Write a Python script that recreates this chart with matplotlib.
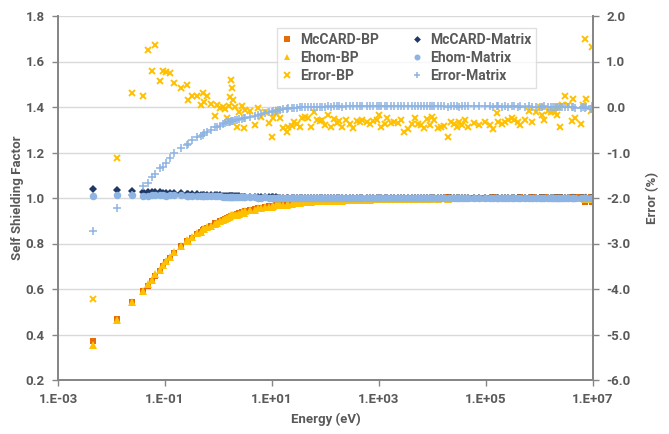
import matplotlib
matplotlib.use('Agg')
import matplotlib.pyplot as plt
from matplotlib.ticker import FixedLocator, FormatStrFormatter

# energy groups (eV)
energy = [
    4.57e-3, 1.25e-2, 2.39e-2, 3.88e-2, 4.81e-2, 5.71e-2, 6.59e-2, 7.96e-2, 9.18e-2, 0.106,
    0.122, 0.147, 0.196, 0.261, 0.269, 0.320, 0.402, 0.465, 0.513, 0.547,
    0.618, 0.714, 0.871, 0.951, 1.05, 1.21, 1.34, 1.46, 1.55, 1.62,
    1.73, 1.79, 1.87, 2.01, 2.24, 2.39, 2.75, 3.00, 3.17, 3.83,
    4.81, 5.41, 6.22, 7.40, 8.79, 9.87, 10.6, 11.7, 13.1, 14.1,
    16.3, 18.8, 20.2, 23.9, 26.1, 29.0, 33.3, 36.8, 41.4, 46.5,
    53.6, 61.8, 68.5, 78.9, 84.9, 97.9, 113, 127, 146, 162,
    179, 206, 239, 287, 331, 383, 442, 488, 589, 679,
    782, 906, 1000, 1090, 1290, 1390, 1680, 1930, 2240, 2580,
    2970, 3440, 4080, 4710, 5430, 6100, 7030, 7800, 8980, 9660,
    1.08e4, 1.25e4, 1.44e4, 1.66e4, 1.97e4, 2.22e4, 2.56e4, 2.83e4, 3.13e4, 3.52e4,
    4.05e4, 4.67e4, 5.97e4, 7.40e4, 9.57e4, 1.19e5, 1.37e5, 1.58e5, 1.70e5, 1.96e5,
    2.26e5, 2.61e5, 3.02e5, 3.38e5, 3.92e5, 4.32e5, 5.36e5, 6.37e5, 7.15e5, 8.49e5,
    1.02e6, 1.10e6, 1.23e6, 1.46e6, 1.64e6, 1.81e6, 1.95e6, 2.09e6, 2.24e6, 2.42e6,
    2.67e6, 3.00e6, 3.45e6, 4.00e6, 4.29e6, 4.61e6, 5.97e6, 6.59e6, 7.08e6, 7.40e6,
    9.18e6, 9.46e6,
]

# self shielding factors (left axis)
mccard_bp = [
    0.370, 0.467, 0.543, 0.590, 0.613, 0.636, 0.655, 0.680, 0.700, 0.717,
    0.735, 0.758, 0.787, 0.810, 0.812, 0.826, 0.842, 0.852, 0.859, 0.863,
    0.870, 0.878, 0.888, 0.892, 0.898, 0.904, 0.909, 0.913, 0.915, 0.917,
    0.920, 0.921, 0.923, 0.926, 0.930, 0.932, 0.937, 0.940, 0.942, 0.947,
    0.952, 0.955, 0.958, 0.961, 0.964, 0.966, 0.967, 0.969, 0.971, 0.972,
    0.974, 0.976, 0.977, 0.979, 0.980, 0.981, 0.982, 0.983, 0.984, 0.985,
    0.986, 0.987, 0.988, 0.989, 0.989, 0.990, 0.991, 0.991, 0.992, 0.992,
    0.993, 0.993, 0.994, 0.994, 0.995, 0.995, 0.996, 0.996, 0.996, 0.997,
    0.997, 0.997, 0.998, 0.998, 0.998, 0.998, 0.999, 0.999, 0.999, 0.999,
    1.000, 1.000, 1.000, 1.000, 1.001, 1.001, 1.001, 1.001, 1.001, 1.001,
    1.002, 1.002, 1.002, 1.002, 1.003, 1.002, 1.002, 1.002, 1.002, 1.002,
    1.002, 1.002, 1.002, 1.002, 1.002, 1.002, 1.003, 1.002, 1.002, 1.002,
    1.002, 1.002, 1.002, 1.002, 1.002, 1.003, 1.002, 1.002, 1.003, 1.002,
    1.002, 1.003, 1.003, 1.002, 1.002, 1.002, 1.002, 1.003, 1.002, 1.004,
    1.001, 0.999, 1.002, 1.004, 1.001, 1.003, 1.004, 1.002, 0.982, 1.001,
    1.003, 0.984,
]

ehom_bp = [
    0.352, 0.462, 0.545, 0.591, 0.621, 0.641, 0.664, 0.684, 0.706, 0.722,
    0.740, 0.762, 0.790, 0.814, 0.813, 0.828, 0.844, 0.852, 0.862, 0.864,
    0.872, 0.879, 0.886, 0.892, 0.898, 0.904, 0.909, 0.911, 0.915, 0.919,
    0.925, 0.925, 0.924, 0.926, 0.926, 0.931, 0.937, 0.936, 0.941, 0.946,
    0.948, 0.955, 0.956, 0.960, 0.961, 0.960, 0.965, 0.968, 0.970, 0.970,
    0.969, 0.971, 0.973, 0.975, 0.977, 0.977, 0.978, 0.981, 0.982, 0.983,
    0.982, 0.986, 0.985, 0.986, 0.986, 0.986, 0.989, 0.987, 0.989, 0.988,
    0.990, 0.989, 0.991, 0.990, 0.990, 0.992, 0.993, 0.993, 0.993, 0.993,
    0.994, 0.994, 0.996, 0.994, 0.994, 0.996, 0.995, 0.996, 0.995, 0.996,
    0.995, 0.995, 0.996, 0.998, 0.997, 0.997, 0.996, 0.998, 0.997, 0.999,
    0.999, 0.997, 0.998, 0.998, 0.996, 0.999, 0.998, 0.998, 0.999, 0.998,
    0.999, 0.998, 0.998, 0.998, 0.999, 0.998, 0.998, 1.001, 0.999, 0.998,
    0.999, 0.999, 1.000, 0.999, 0.999, 0.998, 0.999, 1.001, 1.000, 1.001,
    1.002, 1.001, 1.000, 1.001, 1.001, 1.001, 1.001, 1.001, 1.002, 1.000,
    1.001, 1.001, 1.002, 1.001, 1.003, 1.001, 1.000, 1.002, 0.997, 1.003,
    1.002, 0.997,
]

mccard_mx = [
    1.039, 1.034, 1.031, 1.028, 1.027, 1.027, 1.026, 1.025, 1.024, 1.023,
    1.022, 1.021, 1.020, 1.018, 1.018, 1.017, 1.016, 1.015, 1.015, 1.014,
    1.014, 1.013, 1.012, 1.011, 1.011, 1.010, 1.010, 1.009, 1.009, 1.009,
    1.008, 1.008, 1.008, 1.008, 1.007, 1.007, 1.006, 1.006, 1.006, 1.005,
    1.005, 1.004, 1.004, 1.004, 1.003, 1.003, 1.003, 1.003, 1.002, 1.002,
    1.002, 1.002, 1.002, 1.002, 1.001, 1.001, 1.001, 1.001, 1.001, 1.001,
    1.001, 1.001, 1.000, 1.001, 1.000, 1.000, 1.001, 1.000, 1.000, 1.000,
    1.000, 1.000, 1.000, 1.000, 1.000, 1.000, 1.000, 1.000, 1.000, 1.000,
    1.000, 1.000, 1.000, 1.000, 1.000, 1.000, 1.000, 1.000, 1.000, 1.000,
    1.000, 1.000, 1.000, 1.000, 1.000, 1.000, 1.000, 1.000, 1.000, 1.000,
    1.000, 1.000, 1.000, 1.000, 1.000, 1.000, 1.000, 1.000, 1.000, 1.000,
    1.000, 1.000, 1.000, 1.000, 1.000, 1.000, 1.000, 1.000, 1.000, 1.000,
    1.000, 1.000, 1.000, 1.000, 1.000, 1.000, 1.000, 1.000, 1.000, 1.000,
    1.000, 1.000, 1.000, 1.000, 1.000, 1.000, 1.000, 1.000, 1.000, 1.000,
    1.000, 1.000, 1.000, 1.000, 1.000, 1.000, 1.000, 1.000, 1.000, 1.000,
    1.000, 1.000,
]

ehom_mx = [
    1.010, 1.011, 1.011, 1.010, 1.010, 1.011, 1.011, 1.011, 1.011, 1.010,
    1.011, 1.011, 1.011, 1.009, 1.010, 1.010, 1.009, 1.009, 1.009, 1.008,
    1.009, 1.008, 1.007, 1.007, 1.007, 1.006, 1.006, 1.006, 1.006, 1.006,
    1.005, 1.005, 1.005, 1.005, 1.004, 1.004, 1.003, 1.003, 1.004, 1.003,
    1.003, 1.002, 1.002, 1.003, 1.002, 1.002, 1.002, 1.002, 1.001, 1.001,
    1.002, 1.002, 1.002, 1.002, 1.001, 1.001, 1.001, 1.001, 1.001, 1.001,
    1.001, 1.001, 1.001, 1.001, 1.001, 1.001, 1.001, 1.001, 1.001, 1.001,
    1.001, 1.001, 1.001, 1.000, 1.000, 1.000, 1.000, 1.000, 1.000, 1.000,
    1.000, 1.000, 1.000, 1.000, 1.000, 1.000, 1.000, 1.000, 1.000, 1.000,
    1.000, 1.000, 1.000, 1.000, 1.000, 1.000, 1.000, 1.000, 1.000, 1.000,
    1.000, 1.000, 1.000, 1.000, 1.000, 1.000, 1.000, 1.000, 1.000, 1.000,
    1.000, 1.000, 1.000, 1.000, 1.000, 1.000, 1.000, 1.000, 1.000, 1.000,
    1.000, 1.000, 1.000, 1.000, 1.000, 1.000, 1.000, 1.000, 1.000, 1.000,
    1.000, 1.000, 1.000, 1.000, 1.000, 1.000, 1.000, 1.000, 1.000, 1.000,
    1.000, 1.000, 1.000, 1.000, 1.000, 1.000, 1.000, 1.000, 1.000, 1.000,
    1.000, 1.000,
]

# relative errors in % (right axis)
error_bp = [
    -4.22, -1.11, 0.30, 0.24, 1.25, 0.80, 1.36, 0.57, 0.79, 0.76,
    0.74, 0.52, 0.41, 0.49, 0.15, 0.24, 0.24, 0.04, 0.30, 0.12,
    0.25, 0.07, -0.19, 0.04, -0.03, -0.01, -0.05, -0.24, 0.02, 0.23,
    0.59, 0.41, 0.15, 0.01, -0.43, -0.10, 0.02, -0.47, -0.07, -0.08,
    -0.40, -0.02, -0.21, -0.10, -0.36, -0.65, -0.25, -0.14, -0.07, -0.25,
    -0.47, -0.54, -0.45, -0.41, -0.34, -0.38, -0.43, -0.25, -0.21, -0.25,
    -0.43, -0.12, -0.29, -0.31, -0.29, -0.40, -0.18, -0.43, -0.26, -0.36,
    -0.31, -0.45, -0.29, -0.38, -0.47, -0.31, -0.34, -0.29, -0.33, -0.38,
    -0.31, -0.29, -0.18, -0.43, -0.38, -0.25, -0.36, -0.34, -0.36, -0.29,
    -0.54, -0.48, -0.38, -0.25, -0.38, -0.40, -0.47, -0.27, -0.40, -0.21,
    -0.29, -0.47, -0.43, -0.41, -0.65, -0.34, -0.38, -0.43, -0.34, -0.40,
    -0.29, -0.43, -0.36, -0.40, -0.34, -0.40, -0.48, -0.14, -0.32, -0.38,
    -0.32, -0.29, -0.24, -0.29, -0.34, -0.40, -0.29, -0.09, -0.32, -0.12,
    0.00, -0.18, -0.29, -0.09, -0.12, -0.09, -0.12, -0.18, 0.00, -0.43,
    0.04, 0.25, 0.04, -0.31, 0.18, -0.24, -0.38, 0.04, 1.49, 0.18,
    -0.09, 1.31,
]

error_mx = [
    -2.73, -2.22, -1.94, -1.73, -1.68, -1.53, -1.48, -1.35, -1.31, -1.24,
    -1.13, -1.02, -0.91, -0.84, -0.82, -0.73, -0.67, -0.64, -0.62, -0.58,
    -0.54, -0.51, -0.45, -0.43, -0.41, -0.38, -0.36, -0.34, -0.33, -0.32,
    -0.31, -0.31, -0.30, -0.29, -0.28, -0.27, -0.26, -0.25, -0.24, -0.21,
    -0.19, -0.18, -0.16, -0.13, -0.11, -0.10, -0.09, -0.08, -0.07, -0.06,
    -0.05, -0.04, -0.03, -0.03, -0.02, -0.02, -0.01, -0.01, 0.00, 0.00,
    0.00, 0.01, 0.01, 0.01, 0.01, 0.01, 0.02, 0.01, 0.02, 0.02,
    0.02, 0.01, 0.02, 0.02, 0.02, 0.02, 0.02, 0.03, 0.02, 0.02,
    0.02, 0.02, 0.03, 0.02, 0.02, 0.02, 0.02, 0.03, 0.02, 0.02,
    0.02, 0.02, 0.02, 0.02, 0.03, 0.02, 0.02, 0.02, 0.02, 0.02,
    0.02, 0.02, 0.02, 0.02, 0.01, 0.02, 0.02, 0.02, 0.01, 0.02,
    0.02, 0.02, 0.02, 0.02, 0.02, 0.02, 0.01, 0.02, 0.02, 0.01,
    0.02, 0.01, 0.02, 0.02, 0.01, 0.02, 0.01, 0.02, 0.01, 0.01,
    0.01, 0.01, 0.02, 0.01, 0.00, 0.01, 0.01, 0.00, 0.01, 0.01,
    0.00, 0.01, -0.01, 0.00, 0.01, -0.02, -0.03, 0.00, -0.03, 0.01,
    -0.05, 0.02,
]

x_ticks = [1e-3, 1e-1, 1e1, 1e3, 1e5, 1e7]
x_labels = ['1.E-03', '1.E-01', '1.E+01', '1.E+03', '1.E+05', '1.E+07']

plt.rcParams['font.family'] = ['Roboto', 'DejaVu Sans']
plt.rcParams['font.weight'] = 'bold'
plt.rcParams['axes.labelweight'] = 'bold'
text_grey = '#595959'
axis_grey = '#868686'
fsize = 9.5

fig = plt.figure(figsize=(6.69, 4.34), dpi=100)
ax = fig.add_axes([58 / 669, 1 - 380 / 434, 535 / 669, 364 / 434])
ax2 = ax.twinx()

ax.plot(energy, mccard_bp, 's', color='#E46C0A', ms=5.0, mew=0, label='McCARD-BP')
ax.plot(energy, ehom_bp, '^', color='#FFC000', ms=5.6, mew=0, label='Ehom-BP')
ax.plot(energy, mccard_mx, 'D', color='#1F3864', ms=4.3, mew=0, label='McCARD-Matrix')
ax.plot(energy, ehom_mx, 'o', color='#8EB4E3', ms=5.4, mew=0, label='Ehom-Matrix')
ax2.plot(energy, error_bp, 'x', color='#FFC000', ms=4.8, mew=1.4, label='Error-BP')
ax2.plot(energy, error_mx, '+', color='#8EB4E3', ms=5.4, mew=1.1, label='Error-Matrix')

ax.set_xscale('log')
ax.set_xlim(1e-3, 1e7)
ax.set_ylim(0.2, 1.8)
ax2.set_ylim(-6, 2)

ax.xaxis.set_major_locator(FixedLocator(x_ticks))
ax.xaxis.set_minor_locator(FixedLocator([]))
ax.set_xticklabels(x_labels)
ax.set_yticks([0.2, 0.4, 0.6, 0.8, 1.0, 1.2, 1.4, 1.6, 1.8])
ax.yaxis.set_major_formatter(FormatStrFormatter('%.1f'))
ax2.set_yticks([-6, -5, -4, -3, -2, -1, 0, 1, 2])
ax2.yaxis.set_major_formatter(FormatStrFormatter('%.1f'))

ax.grid(axis='y', color='#D9D9D9', lw=1)
ax.set_axisbelow(True)

for a in (ax, ax2):
    a.spines['top'].set_visible(False)
    for s in ('left', 'right', 'bottom'):
        a.spines[s].set_color(axis_grey)
        a.spines[s].set_linewidth(1.3)
    a.tick_params(colors=axis_grey, labelcolor=text_grey, labelsize=fsize,
                  length=4.5, width=1, pad=5, direction='out')
    for t in a.get_xticklabels() + a.get_yticklabels():
        t.set_fontweight('bold')

ax.set_xlabel('Energy (eV)', fontsize=fsize, fontweight='bold', color=text_grey, labelpad=5)
ax.set_ylabel('Self Shielding Factor', fontsize=fsize, fontweight='bold', color=text_grey, labelpad=1)
ax2.set_ylabel('Error (%)', fontsize=fsize, fontweight='bold', color=text_grey, labelpad=11)

h1, l1 = ax.get_legend_handles_labels()
h2, l2 = ax2.get_legend_handles_labels()
handles = [h1[0], h1[1], h2[0], h1[2], h1[3], h2[1]]
labels = [l1[0], l1[1], l2[0], l1[2], l1[3], l2[1]]
leg = ax2.legend(handles, labels, ncol=2, loc='upper left',
                 bbox_to_anchor=(0.409, 0.967), borderaxespad=0,
                 frameon=True, fancybox=False,
                 edgecolor='#D9D9D9', prop={'size': 10, 'weight': 'bold'},
                 handlelength=0.8, handletextpad=0.5, columnspacing=2.4,
                 labelspacing=0.3, borderpad=0.35, markerscale=0.8)
for t in leg.get_texts():
    t.set_color(text_grey)
leg.get_frame().set_linewidth(1)

fig.savefig('out.png', dpi=100)
